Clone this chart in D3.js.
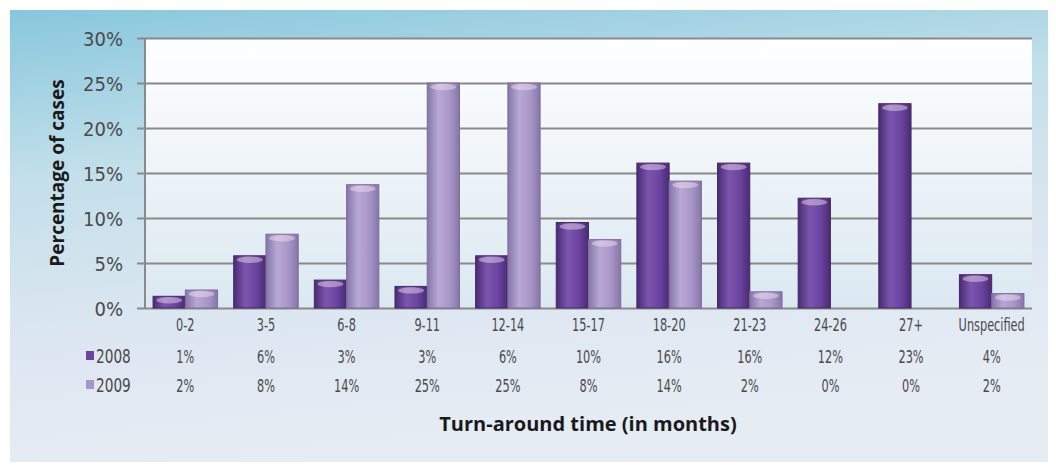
<!DOCTYPE html>
<html><head><meta charset="utf-8">
<script src="https://cdn.jsdelivr.net/npm/d3@7"></script>
<style>body{margin:0;background:#fff}svg{display:block}</style>
</head><body>
<svg id="chart" width="1056" height="468"></svg>
<script>
const categories = ["0-2","3-5","6-8","9-11","12-14","15-17","18-20","21-23","24-26","27+","Unspecified"];
const seriesNames = ["2008","2009"];
const values2008 = [1.3, 5.8, 3.1, 2.4, 5.8, 9.5, 16.1, 16.1, 12.2, 22.7, 3.7];
const values2009 = [2.0, 8.2, 13.7, 25.0, 25.0, 7.6, 14.1, 1.8, 0, 0, 1.6];
const labels2008 = ["1%","6%","3%","3%","6%","10%","16%","16%","12%","23%","4%"];
const labels2009 = ["2%","8%","14%","25%","25%","8%","14%","2%","0%","0%","2%"];
const yTicks = [0,5,10,15,20,25,30];
const yTitle = "Percentage of cases";
const xTitle = "Turn-around time (in months)";

(function(){
const svg = d3.select("#chart");
const defs = svg.append("defs");

const panelG = defs.append("linearGradient").attr("id","panel").attr("x1",0).attr("y1",0).attr("x2",0.25).attr("y2",1);
panelG.append("stop").attr("offset",0).attr("stop-color","#88c7dd");
panelG.append("stop").attr("offset",0.35).attr("stop-color","#c2dfea");
panelG.append("stop").attr("offset",0.7).attr("stop-color","#dde7f1");
panelG.append("stop").attr("offset",1).attr("stop-color","#e6ecf4");

const plotG = defs.append("linearGradient").attr("id","plotbg").attr("x1",0).attr("y1",0).attr("x2",0).attr("y2",1);
plotG.append("stop").attr("offset",0).attr("stop-color","#ffffff");
plotG.append("stop").attr("offset",1).attr("stop-color","#dbe8f1");

function barGrad(id, edge, mid, light){
  const g = defs.append("linearGradient").attr("id",id).attr("x1",0).attr("y1",0).attr("x2",1).attr("y2",0);
  g.append("stop").attr("offset",0).attr("stop-color",edge);
  g.append("stop").attr("offset",0.35).attr("stop-color",light);
  g.append("stop").attr("offset",0.7).attr("stop-color",mid);
  g.append("stop").attr("offset",1).attr("stop-color",edge);
}
barGrad("b2008","#4a2a73","#6a44a0","#7b55ad");
barGrad("b2009","#8676a8","#a896c8","#b8a8d6");
const colors = {"2008":"#6a44a0","2009":"#a896c8"};

svg.append("rect").attr("x",10).attr("y",10).attr("width",1038).attr("height",452).attr("fill","url(#panel)");

const pL = 145, pR = 1032, pT = 38, pB = 308;
svg.append("rect").attr("x",pL).attr("y",pT).attr("width",pR-pL).attr("height",pB-pT).attr("fill","url(#plotbg)");

const x = d3.scaleBand().domain(categories).range([pL,pR]).paddingInner(0.2).paddingOuter(0.1);
const x1 = d3.scaleBand().domain(seriesNames).range([0,x.bandwidth()]).padding(0);
const y = d3.scaleLinear().domain([0,30]).range([pB,pT]);

const yAxis = d3.axisLeft(y).tickValues(yTicks).tickSize(-(pR-pL)).tickFormat(d=>d+"%");
const ga = svg.append("g").attr("transform",`translate(${pL},0)`).call(yAxis);
ga.select(".domain").remove();
ga.selectAll(".tick line").attr("stroke","#8a8a8a").attr("stroke-width",2).attr("x1",-8);
ga.selectAll(".tick text").attr("x",-22).attr("dy","0.35em")
  .attr("font-family","DejaVu Sans Condensed, DejaVu Sans").attr("font-size",20).attr("fill","#4a4a4a");
svg.append("line").attr("x1",pL).attr("x2",pL).attr("y1",pT).attr("y2",pB).attr("stroke","#8a8a8a").attr("stroke-width",2);

const data = categories.map((c,i)=>({c, v:[{s:"2008",v:values2008[i]},{s:"2009",v:values2009[i]}]}));
const groups = svg.append("g").selectAll("g").data(data).join("g").attr("transform",d=>`translate(${x(d.c)},0)`);
const bars = groups.selectAll("g").data(d=>d.v.filter(e=>e.v>0)).join("g");
bars.append("rect").attr("x",d=>x1(d.s)).attr("y",d=>y(d.v)).attr("width",x1.bandwidth()).attr("height",d=>y(0)-y(d.v))
  .attr("fill",d=>`url(#b${d.s})`).attr("stroke",d=>d.s==="2008"?"#452868":"#7d6d9e").attr("stroke-width",1);
bars.append("ellipse").attr("cx",d=>x1(d.s)+x1.bandwidth()/2).attr("cy",d=>y(d.v)+4)
  .attr("rx",x1.bandwidth()*0.4).attr("ry",3.2).attr("fill","#f6e4f2").attr("opacity",0.45);

const condensed = "DejaVu Sans Condensed, DejaVu Sans";
function squeezedText(sel, xs, yy, txt){
  sel.append("text").attr("transform",`translate(${xs},${yy}) scale(0.7,1)`).attr("text-anchor","middle")
    .attr("font-family",condensed).attr("font-size",18).attr("fill","#4a4a4a").text(txt);
}
const tbl = svg.append("g");
categories.forEach((c,i)=>{
  const cx = x(c)+x.bandwidth()/2;
  squeezedText(tbl, cx, 331, c);
  squeezedText(tbl, cx, 363, labels2008[i]);
  squeezedText(tbl, cx, 392, labels2009[i]);
});
[["2008",363],["2009",392]].forEach(([s,yy])=>{
  tbl.append("rect").attr("x",86).attr("y",yy-12).attr("width",8).attr("height",9).attr("fill",colors[s]);
  tbl.append("text").attr("transform",`translate(96,${yy}) scale(0.8,1)`).attr("font-family",condensed)
    .attr("font-size",19).attr("fill","#4a4a4a").text(s);
});

svg.append("text").attr("transform","translate(64,173) rotate(-90)").attr("text-anchor","middle")
  .attr("font-family","Open Sans").attr("font-weight","bold").attr("font-size",19).attr("fill","#1a1a1a").text(yTitle);
svg.append("text").attr("x",588).attr("y",431).attr("text-anchor","middle")
  .attr("font-family","Open Sans").attr("font-weight","bold").attr("font-size",20).attr("fill","#1a1a1a").text(xTitle);
})();
</script>
</body></html>
